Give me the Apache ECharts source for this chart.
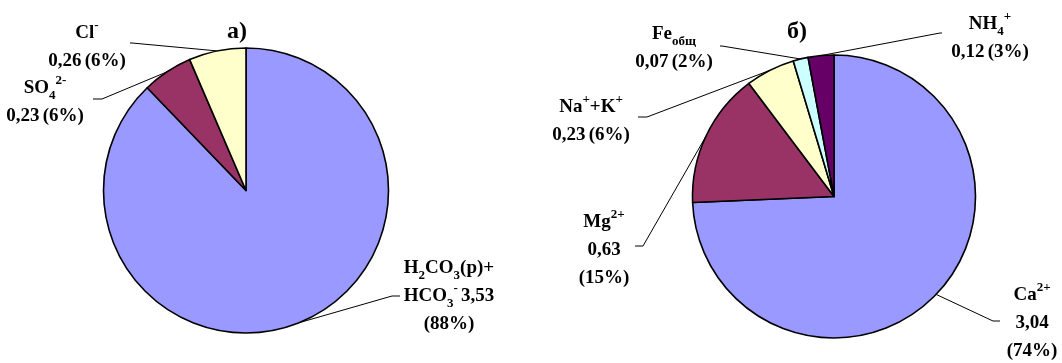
<!DOCTYPE html>
<html>
<head>
<meta charset="utf-8">
<script src="https://cdn.jsdelivr.net/npm/echarts@6/dist/echarts.min.js"></script>
<style>
html,body{margin:0;padding:0;background:#fff;}
#c{width:1062px;height:363px;}
</style>
</head>
<body>
<div id="c"></div>
<script>
// ---- data ----
const titlesText = ['а)', 'б)'];

const anionNames = [
  '{b|H}{sub|2}{b|CO}{sub|3}{b|(р)+}\n{b|HCO}{sub|3}{sup|-}',
  '{b|SO}{sub|4}{sup|2-}',
  '{b|Cl}{sup|-}'
];
const anionValues = [3.53, 0.23, 0.26];

const cationNames = [
  '{b|Ca}{sup|2+}',
  '{b|Mg}{sup|2+}',
  '{b|Na}{sup|+}{b|+K}{sup|+}',
  '{b|Fe}{sub|общ}',
  '{b|NH}{sub|4}{sup|+}'
];
const cationValues = [3.04, 0.63, 0.23, 0.07, 0.12];

// ---- styles / layout ----
const colors = ['#9999FF', '#993366', '#FFFFCC', '#CCFFFF', '#660066'];
const FONT = '"Liberation Serif", "Times New Roman", serif';
// separators between name/value/percent in each label
const anionSeps = [[' ', '\n'], ['\n', ' '], ['\n', ' ']];
const cationSeps = [['\n', '\n'], ['\n', '\n'], ['\n', ' '], ['\n', ' '], ['\n', ' ']];

const anionLabelPos = [[449, 296], [45, 102], [87, 47]];
const anionLineBends = [[[392, 296], [400, 296]], [[102, 99], [93, 99]], [[132, 43], [130, 43]]];
const cationLabelPos = [[1032, 323], [604, 250], [591, 121], [674, 48], [990, 38]];
const cationLineBends = [
  [[993, 321], [1000, 321]],
  [[643, 246], [635, 246]],
  [[647, 117], [638, 117]],
  [[722, 46], [720, 46]],
  [[940, 33], [942, 33]]
];

const rich = {
  b: {fontFamily: FONT, fontWeight: 'bold', fontSize: 19, lineHeight: 28, color: '#000'},
  sub: {fontFamily: FONT, fontWeight: 'bold', fontSize: 13, lineHeight: 18, verticalAlign: 'bottom', color: '#000'},
  sup: {fontFamily: FONT, fontWeight: 'bold', fontSize: 13, lineHeight: 18, verticalAlign: 'top', color: '#000'}
};

function fmtNum(v) { return v.toFixed(2).replace('.', ','); }

function makeData(names, values) {
  return values.map((v, i) => ({name: names[i], value: v, itemStyle: {color: colors[i]}}));
}

function makeFormatter(names, seps) {
  return function (p) {
    const i = p.dataIndex;
    return names[i] + seps[i][0] + '{b|' + fmtNum(p.value) + '}' + seps[i][1] +
      '{b|(' + Math.round(p.percent) + '%)}';
  };
}

function makeLayout(pos, bends) {
  return function (params) {
    const i = params.dataIndex;
    const pts = params.labelLinePoints;
    const start = pts ? pts[0] : bends[i][0];
    return {
      x: pos[i][0], y: pos[i][1], align: 'center', verticalAlign: 'middle',
      labelLinePoints: [start, bends[i][0], bends[i][1]]
    };
  };
}

function pieSeries(center, radius, names, values, seps, pos, bends) {
  return {
    type: 'pie',
    center: center,
    radius: radius,
    startAngle: 90,
    clockwise: true,
    avoidLabelOverlap: false,
    data: makeData(names, values),
    itemStyle: {borderColor: '#000', borderWidth: 1.6},
    label: {show: true, position: 'outside', formatter: makeFormatter(names, seps), rich: rich},
    labelLine: {show: true, length: 10, length2: 10, lineStyle: {color: '#000', width: 1}},
    labelLayout: makeLayout(pos, bends),
    emphasis: {disabled: true}
  };
}

const chart = echarts.init(document.getElementById('c'), null, {renderer: 'canvas'});
chart.setOption({
  animation: false,
  backgroundColor: '#fff',
  title: [
    {text: titlesText[0], left: 237, top: 20, textAlign: 'center', padding: 0,
     textStyle: {fontFamily: FONT, fontWeight: 'bold', fontSize: 24, color: '#000'}},
    {text: titlesText[1], left: 797, top: 20, textAlign: 'center', padding: 0,
     textStyle: {fontFamily: FONT, fontWeight: 'bold', fontSize: 24, color: '#000'}}
  ],
  series: [
    pieSeries([246, 190.5], 142.5, anionNames, anionValues, anionSeps, anionLabelPos, anionLineBends),
    pieSeries([834, 196.5], 141.5, cationNames, cationValues, cationSeps, cationLabelPos, cationLineBends)
  ]
});
</script>
</body>
</html>
